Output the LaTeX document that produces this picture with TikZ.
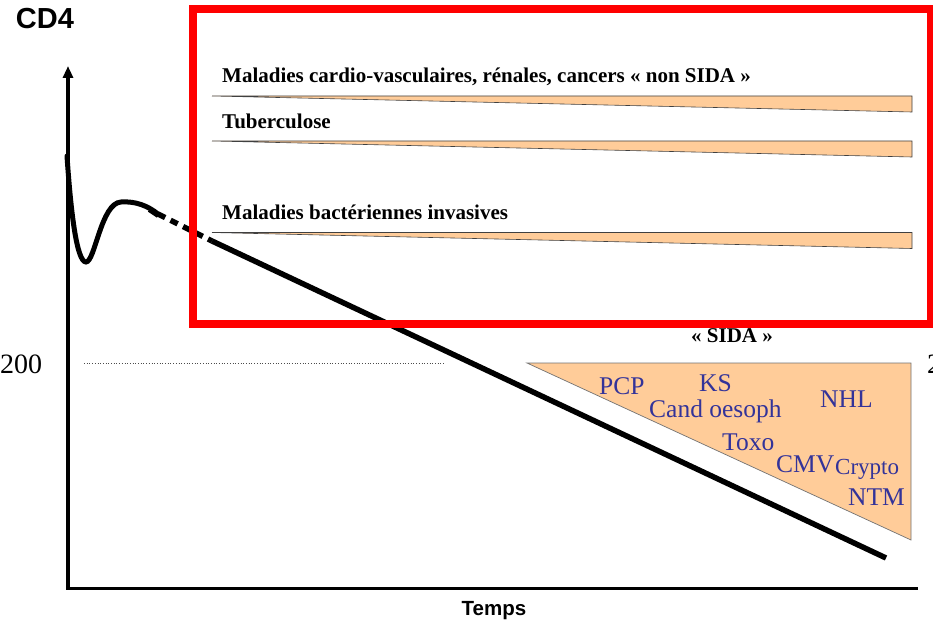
\documentclass[tikz,border=0pt]{standalone}
\usepackage{fontspec}
\setmainfont{Liberation Serif}
\newfontfamily\arialf{Liberation Sans}
\usetikzlibrary{arrows.meta}
\definecolor{wedgeorange}{HTML}{FFCC99}
\definecolor{sidablue}{HTML}{333399}
\definecolor{framered}{HTML}{FF0000}
\tikzset{
  wedge/.style={fill=wedgeorange, draw=black!75, line width=0.6pt},
  boldlabel/.style={anchor=base west, inner sep=0pt, font=\fontsize{21}{24}\selectfont\bfseries},
  oilabel/.style={anchor=base west, inner sep=0pt, text=sidablue, font=\fontsize{25.5}{28}\selectfont},
  axisline/.style={line width=3.3pt},
  cdline/.style={line width=5.5pt},
}
\begin{document}
\begin{tikzpicture}[x=1pt,y=-1pt]
\useasboundingbox (0,0) rectangle (933,620);
\clip (0,0) rectangle (933,620);
\fill[white] (0,0) rectangle (933,620);

% axes
\coordinate (origin) at (68,588.5);
\coordinate (ytop) at (68,66);
\coordinate (xend) at (918,588.5);
\draw[axisline, -{Triangle[length=12pt,width=10pt]}] ([yshift=1.6pt]origin) -- (ytop);
\draw[axisline] ([xshift=-1.6pt]origin) -- (xend);

\node[font=\arialf\bfseries\fontsize{29}{32}\selectfont, inner sep=0pt] (cd4) at (45,19) {CD4};
\node[font=\arialf\bfseries\fontsize{20.5}{22}\selectfont, inner sep=0pt, anchor=base] (temps) at (494,615) {Temps};

% 200 level
\node[anchor=base west, inner sep=0pt, font=\fontsize{28}{30}\selectfont] (l200) at (0,373) {200};
\node[anchor=base west, inner sep=0pt, font=\fontsize{28}{30}\selectfont] (l2) at (927,373) {2};
\coordinate (d1) at (84,363.5);
\coordinate (d2) at (445,363.5);
\draw[black!70, line width=0.7pt, dotted] (d1) -- (d2);

% wedges
\draw[wedge] (212,96) -- (912,96) -- (912,112) -- cycle;
\draw[wedge] (212,141) -- (912,141) -- (912,157) -- cycle;
\draw[wedge] (212,232.5) -- (912,232.5) -- (912,248.5) -- cycle;

\node[boldlabel] (mcv) at (222,83) {Maladies cardio-vasculaires, rénales, cancers « non SIDA »};
\node[boldlabel] (tub) at (222,129) {Tuberculose};
\node[boldlabel] (mbi) at (222,220) {Maladies bactériennes invasives};

% SIDA triangle
\draw[fill=wedgeorange, draw=black!55, line width=0.7pt] (527,363) -- (911,363) -- (911,540) -- cycle;
\node[boldlabel, anchor=base] (sida) at (732,342) {« SIDA »};
\node[oilabel] (pcp) at (599,394) {PCP};
\node[oilabel] (ks) at (699,391) {KS};
\node[oilabel] (cand) at (649,417) {Cand oesoph};
\node[oilabel] (nhl) at (820,407) {NHL};
\node[oilabel] (toxo) at (722,450) {Toxo};
\node[oilabel] (cmv) at (776,472) {CMV};
\node[oilabel, font=\fontsize{23}{26}\selectfont] (crypto) at (835,474) {Crypto};
\node[oilabel] (ntm) at (848,505) {NTM};

% CD4 curve
\coordinate (c0) at (67,156);
\coordinate (cmin) at (86,262);
\coordinate (cpeak) at (121,202);
\coordinate (c1) at (158,214);
\coordinate (c2) at (212,241);
\coordinate (c3) at (886,558);
\draw[line width=5pt, line cap=round] (c0) .. controls (71,215) and (77,262) .. (cmin)
  .. controls (95,262) and (101,203) .. (cpeak)
  .. controls (136,201) and (148,206) .. (c1);
\draw[line width=4pt] (149,210) -- (158,216);
\draw[cdline, dash pattern=on 8pt off 6pt] (c1) -- (c2);
\draw[cdline] (c2) -- (c3);

% red frame
\draw[framered, line width=8pt] (193,9) rectangle (931,324);
\end{tikzpicture}
\end{document}
